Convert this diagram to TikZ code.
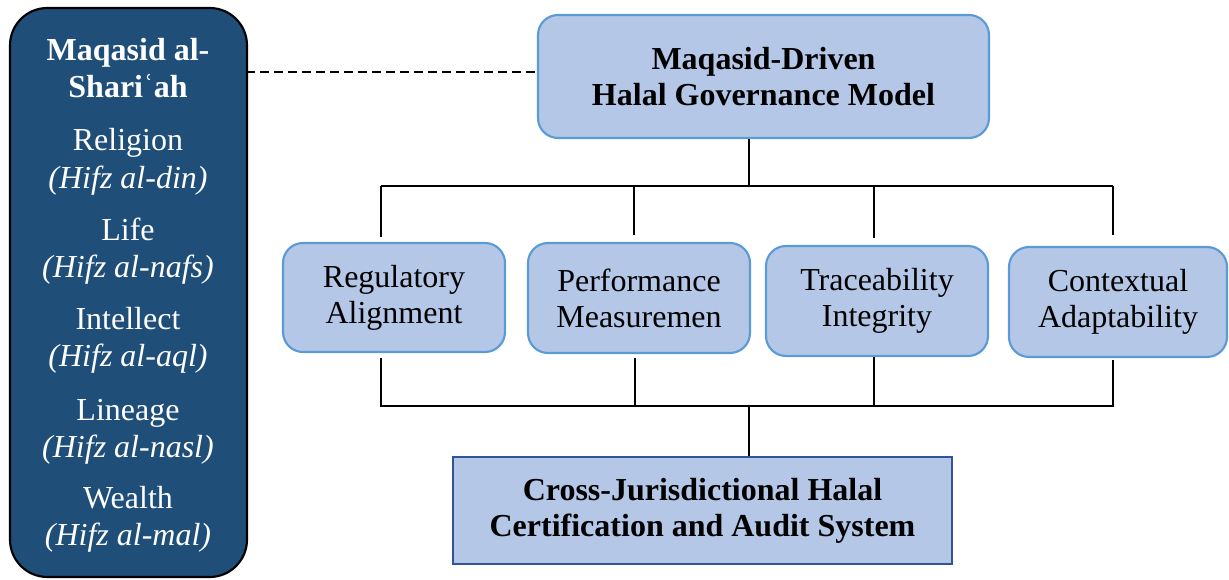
\documentclass[tikz,border=0pt]{standalone}
\usepackage{fontspec}
\setmainfont{Liberation Serif}
\definecolor{maqblue}{HTML}{1F4E79}
\definecolor{boxfill}{HTML}{B4C7E7}
\definecolor{boxline}{HTML}{5B9BD5}
\definecolor{sysline}{HTML}{2F5597}
\tikzset{
  pillar/.style={anchor=base, text=white, font=\fontsize{24}{27}\selectfont, inner sep=0pt},
  area/.style={rounded corners=15pt, fill=boxfill, draw=boxline, line width=1.6pt, align=center, font=\fontsize{24}{27}\selectfont, inner sep=0pt},
  link/.style={line width=1.5pt},
}
\begin{document}
\begin{tikzpicture}[x=0.75pt, y=-0.75pt]
\useasboundingbox (0,0) rectangle (1229,580);
\node[draw=black, line width=1.6pt, fill=maqblue, rounded corners=28pt, minimum width=237*0.75pt, minimum height=569*0.75pt, inner sep=0pt] (maq) at (128.5,292.5){};
\node[pillar, font=\fontsize{24}{27}\selectfont\bfseries] (maqt1) at (128,61){Maqasid al-};
\node[pillar, font=\fontsize{24}{27}\selectfont\bfseries] (maqt2) at (128,98){Shariʿah};
\node[pillar] (din) at (128,151){Religion};
\node[pillar] (dinh) at (128,189){\textit{(Hifz al-din)}};
\node[pillar] (nafs) at (128,241){Life};
\node[pillar] (nafsh) at (128,278){\textit{(Hifz al-nafs)}};
\node[pillar] (aql) at (128,330){Intellect};
\node[pillar] (aqlh) at (128,367){\textit{(Hifz al-aql)}};
\node[pillar] (nasl) at (128,421){Lineage};
\node[pillar] (naslh) at (128,458){\textit{(Hifz al-nasl)}};
\node[pillar] (mal) at (128,509){Wealth};
\node[pillar] (malh) at (128,546){\textit{(Hifz al-mal)}};
\node[area, minimum width=451*0.75pt, minimum height=123*0.75pt, font=\fontsize{24}{27}\selectfont\bfseries] (gov) at (763.5,76.5){Maqasid-Driven\\Halal Governance Model};
\node[area, minimum width=222*0.75pt, minimum height=109*0.75pt] (reg) at (394,297.5){Regulatory\\Alignment};
\node[area, minimum width=222*0.75pt, minimum height=110*0.75pt] (perf) at (639,298){Performance\\Measuremen};
\node[area, minimum width=222*0.75pt, minimum height=110*0.75pt] (trace) at (877,301){Traceability\\Integrity};
\node[area, minimum width=218*0.75pt, minimum height=110*0.75pt] (ctx) at (1118,302){Contextual\\Adaptability};
\node[fill=boxfill, draw=sysline, line width=1.6pt, minimum width=499*0.75pt, minimum height=107*0.75pt, align=center, font=\fontsize{24}{27}\selectfont\bfseries, inner sep=0pt] (cert) at (702.5,510.5){Cross-Jurisdictional Halal\\Certification and Audit System};
\coordinate (topbus) at (749,186);
\coordinate (topL) at (381,186);
\coordinate (topR) at (1113,186);
\coordinate (botbus) at (749,406);
\coordinate (botL) at (381,406);
\coordinate (botR) at (1113,406);
\draw[dashed, dash pattern=on 6.5pt off 4pt, line width=1pt] (246,72) -- (gov.west |- 0,72);
\draw[link] (gov.south -| topbus) -- (topbus);
\draw[link] (topL) -- (topR);
\draw[link] (topL) -- (381,237);
\draw[link] (634,186) -- (634,235);
\draw[link] (874,186) -- (874,238);
\draw[link] (topR) -- (1113,235);
\draw[link] (381,358) -- (botL) -- (botR) -- (1113,360);
\draw[link] (635,358) -- (635,406);
\draw[link] (874,357) -- (874,406);
\draw[link] (botbus) -- (cert.north -| botbus);
\end{tikzpicture}
\end{document}
